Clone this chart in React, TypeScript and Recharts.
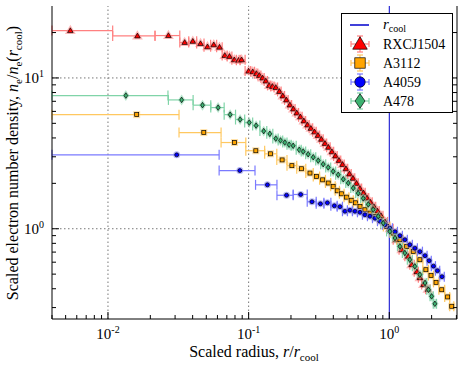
import { ScatterChart, Scatter, XAxis, YAxis, ErrorBar, ReferenceLine, Legend } from 'recharts';

// radii (r / r_cool) and scaled densities
const rxcjR = [0.0054, 0.0162, 0.0269, 0.0351, 0.0401, 0.0455, 0.051, 0.0565, 0.0621, 0.0677, 0.0731, 0.0791, 0.0848, 0.0891, 0.1, 0.107, 0.1135, 0.119, 0.1256, 0.1325, 0.14, 0.1475, 0.156, 0.1655, 0.175, 0.1855, 0.1965, 0.208, 0.22, 0.2334, 0.247, 0.262, 0.277, 0.294, 0.311, 0.329, 0.349, 0.369, 0.391, 0.414, 0.439, 0.465, 0.492, 0.521, 0.552, 0.585, 0.618, 0.655, 0.694, 0.735, 0.778, 0.824, 0.873, 0.932, 1.01, 1.125, 1.225, 1.36, 1.44, 1.57, 1.65, 1.75, 1.88];
const rxcjN = [20.6, 19.0, 19.1, 17.2, 17.5, 16.9, 16.1, 16.6, 16.0, 14.1, 13.9, 13.2, 13.1, 13.2, 11.1, 11.0, 10.7, 10.4, 10.0, 9.55, 8.92, 8.79, 8.65, 8.14, 7.6, 7.15, 6.62, 6.23, 5.86, 5.52, 5.19, 4.88, 4.63, 4.39, 4.16, 3.92, 3.68, 3.47, 3.24, 3.04, 2.84, 2.67, 2.5, 2.31, 2.16, 2.0, 1.85, 1.73, 1.6, 1.5, 1.4, 1.31, 1.22, 1.11, 1.0, 0.846, 0.726, 0.658, 0.578, 0.519, 0.474, 0.426, 0.397];
const rxcjLo = [0.004, 0.0108, 0.0216];
const rxcjHi = [0.0108, 0.0216, 0.0324];

const a3112R = [0.016, 0.048, 0.0794, 0.1125, 0.143, 0.173, 0.203, 0.238, 0.273, 0.304, 0.336, 0.368, 0.399, 0.4265, 0.458, 0.497, 0.536, 0.574, 0.619, 0.671, 0.729, 0.791, 0.859, 0.958, 1.068, 1.19, 1.33, 1.48, 1.65, 1.82, 1.98, 2.15, 2.36, 2.6, 2.78];
const a3112N = [5.71, 4.34, 3.73, 3.29, 3.14, 2.86, 2.62, 2.5, 2.34, 2.22, 2.11, 2.01, 1.91, 1.785, 1.705, 1.62, 1.545, 1.486, 1.405, 1.336, 1.27, 1.206, 1.147, 1.036, 0.936, 0.846, 0.764, 0.707, 0.623, 0.535, 0.489, 0.441, 0.394, 0.353, 0.306];
const a3112Lo = [0.004, 0.032, 0.0637, 0.0955, 0.13];
const a3112Hi = [0.032, 0.0637, 0.0955, 0.13, 0.1586];

const a4059R = [0.0308, 0.0866, 0.136, 0.186, 0.2344, 0.282, 0.324, 0.363, 0.407, 0.446, 0.484, 0.525, 0.57, 0.619, 0.671, 0.729, 0.791, 0.859, 0.932, 1.01, 1.098, 1.19, 1.29, 1.4, 1.52, 1.65, 1.795, 1.92, 2.06, 2.2, 2.37];
const a4059N = [3.09, 2.43, 1.955, 1.667, 1.687, 1.51, 1.464, 1.486, 1.42, 1.4, 1.306, 1.326, 1.306, 1.285, 1.238, 1.21, 1.174, 1.121, 1.063, 1.008, 0.955, 0.899, 0.846, 0.783, 0.743, 0.705, 0.663, 0.614, 0.565, 0.527, 0.481];
const a4059Lo = [0.004, 0.0617, 0.112, 0.159, 0.2074];
const a4059Hi = [0.0617, 0.111, 0.159, 0.2074, 0.261];

const a478R = [0.0134, 0.0334, 0.047, 0.0607, 0.0739, 0.087, 0.101, 0.113, 0.128, 0.1415, 0.156, 0.1686, 0.181, 0.194, 0.2073, 0.229, 0.2443, 0.265, 0.288, 0.3125, 0.339, 0.368, 0.399, 0.4335, 0.471, 0.511, 0.5545, 0.601, 0.653, 0.709, 0.769, 0.835, 0.906, 1.01, 1.098, 1.19, 1.29, 1.4, 1.52, 1.65, 1.795, 1.9, 2.0, 2.11];
const a478N = [7.64, 7.15, 6.6, 6.36, 5.71, 5.3, 5.06, 4.83, 4.44, 4.26, 3.96, 3.85, 3.73, 3.61, 3.55, 3.34, 3.25, 3.12, 2.98, 2.83, 2.68, 2.55, 2.4, 2.28, 2.13, 2.01, 1.86, 1.72, 1.59, 1.45, 1.34, 1.21, 1.09, 0.96, 0.868, 0.764, 0.69, 0.623, 0.563, 0.496, 0.437, 0.394, 0.356, 0.318];
const a478Lo = [0.004, 0.0269, 0.0403, 0.0538, 0.067];
const a478Hi = [0.0267, 0.0403, 0.0538, 0.067, 0.0807];

const xTicks = [0.004, 0.005, 0.006, 0.007, 0.008, 0.009, 0.01, 0.02, 0.03, 0.04, 0.05, 0.06, 0.07, 0.08, 0.09, 0.1, 0.2, 0.3, 0.4, 0.5, 0.6, 0.7, 0.8, 0.9, 1, 2, 3];
const yTicks = [0.3, 0.4, 0.5, 0.6, 0.7, 0.8, 0.9, 1, 2, 3, 4, 5, 6, 7, 8, 9, 10, 20];
const majors = [0.01, 0.1, 1, 10];

const FONT = "'Liberation Serif', 'DejaVu Serif', serif";
const serif = { fontFamily: FONT };

// bins: explicit edges for the wide inner bins, then edges half way (in log) to the neighbours
function rows(r: number[], n: number[], lo: number[], hi: number[]) {
  return r.map((v, i) => {
    let a = lo[i];
    let b = hi[i];
    if (a === undefined) a = i === lo.length ? hi[i - 1] : Math.sqrt(r[i - 1] * v);
    if (b === undefined) b = i < r.length - 1 ? Math.sqrt(v * r[i + 1]) : (v * v) / a;
    return { r: v, n: n[i], ex: [v - a, b - v] };
  });
}

const series = [
  { name: 'RXCJ1504', data: rows(rxcjR, rxcjN, rxcjLo, rxcjHi), fill: '#ff0000', err: '#ff8080', kind: 'tri' },
  { name: 'A3112', data: rows(a3112R, a3112N, a3112Lo, a3112Hi), fill: '#ffa500', err: '#ffc860', kind: 'sq' },
  { name: 'A4059', data: rows(a4059R, a4059N, a4059Lo, a4059Hi), fill: '#0000ff', err: '#7a7aff', kind: 'circ' },
  { name: 'A478', data: rows(a478R, a478N, a478Lo, a478Hi), fill: '#3cb371', err: '#80d4a8', kind: 'dia' },
];

function Marker({ kind, cx, cy, fill, s = 1, halo }: any) {
  const body = (extra: any) => {
    if (kind === 'tri')
      return <polygon points={`${cx},${cy - 2.8 * s} ${cx - 2.8 * s},${cy + 2 * s} ${cx + 2.8 * s},${cy + 2 * s}`} {...extra} />;
    if (kind === 'sq') return <rect x={cx - 2 * s} y={cy - 2 * s} width={4 * s} height={4 * s} {...extra} />;
    if (kind === 'circ') return <circle cx={cx} cy={cy} r={2 * s} {...extra} />;
    return <polygon points={`${cx},${cy - 2.8 * s} ${cx + 1.9 * s},${cy} ${cx},${cy + 2.8 * s} ${cx - 1.9 * s},${cy}`} {...extra} />;
  };
  return (
    <g>
      {halo && body({ fill: 'none', stroke: halo, strokeWidth: 3, strokeOpacity: 0.55 })}
      {body({ fill, stroke: '#000', strokeWidth: 0.7 })}
    </g>
  );
}

const exp = (v: number) => Math.round(Math.log10(v));

function BottomTick({ x, y, payload }: any) {
  const major = majors.includes(payload.value);
  return (
    <g>
      <line x1={x} x2={x} y1={y} y2={y - (major ? 7 : 4)} stroke="#000" />
      {major && (
        <text x={x} y={y + 20} textAnchor="middle" fontFamily={FONT} style={serif} fontSize={15} fill="#000">
          10<tspan dy={-6} fontSize={10}>{exp(payload.value)}</tspan>
        </text>
      )}
    </g>
  );
}

function TopTick({ x, y, payload }: any) {
  const major = majors.includes(payload.value);
  return <line x1={x} x2={x} y1={y} y2={y + (major ? 7 : 4)} stroke="#000" />;
}

function LeftTick({ x, y, payload }: any) {
  const major = majors.includes(payload.value);
  return (
    <g>
      <line x1={x} x2={x + (major ? 7 : 4)} y1={y} y2={y} stroke="#000" />
      {major && (
        <text x={x - 8} y={y + 5} textAnchor="end" fontFamily={FONT} style={serif} fontSize={15} fill="#000">
          10<tspan dy={-6} fontSize={10}>{exp(payload.value)}</tspan>
        </text>
      )}
    </g>
  );
}

function RightTick({ x, y, payload }: any) {
  const major = majors.includes(payload.value);
  return <line x1={x} x2={x - (major ? 7 : 4)} y1={y} y2={y} stroke="#000" />;
}

const XLabel = () => (
  <text x={254} y={357} textAnchor="middle" style={serif} fontSize={16} fill="#000">
    Scaled radius, <tspan fontStyle="italic">r</tspan>/<tspan fontStyle="italic">r</tspan>
    <tspan dy={4} fontSize={11}>cool</tspan>
  </text>
);

const YLabel = () => (
  <text x={18} y={163} transform="rotate(-90 18 163)" textAnchor="middle" style={serif} fontSize={16} fill="#000">
    Scaled electron number density, <tspan fontStyle="italic">n</tspan>
    <tspan dy={4} fontSize={11}>e</tspan>
    <tspan dy={-4}>/</tspan>
    <tspan fontStyle="italic">n</tspan>
    <tspan dy={4} fontSize={11}>e</tspan>
    <tspan dy={-4}>(</tspan>
    <tspan fontStyle="italic">r</tspan>
    <tspan dy={4} fontSize={11}>cool</tspan>
    <tspan dy={-4}>)</tspan>
  </text>
);

function LegendBox() {
  const rowY = [11, 30, 49, 68, 87];
  return (
    <div style={{ width: 112, height: 100, border: '1px solid #000', background: '#fff', boxSizing: 'border-box', fontFamily: FONT }}>
      <svg width={110} height={98} style={{ display: 'block' }}>
        <line x1={8} x2={27} y1={rowY[0]} y2={rowY[0]} stroke="#0000cc" strokeWidth={1.5} />
        <text x={41} y={rowY[0] + 4} fontFamily={FONT} style={serif} fontSize={15}>
          <tspan fontStyle="italic">r</tspan>
          <tspan dy={3} fontSize={10}>cool</tspan>
        </text>
        {series.map((s, i) => {
          const cy = rowY[i + 1];
          return (
            <g key={s.name}>
              <line x1={9} x2={27} y1={cy} y2={cy} stroke={s.err} strokeWidth={1.2} />
              <line x1={9} x2={9} y1={cy - 3} y2={cy + 3} stroke={s.err} strokeWidth={1.2} />
              <line x1={27} x2={27} y1={cy - 3} y2={cy + 3} stroke={s.err} strokeWidth={1.2} />
              <line x1={18} x2={18} y1={cy - 8} y2={cy + 8} stroke={s.err} strokeWidth={1.2} />
              <line x1={15} x2={21} y1={cy - 8} y2={cy - 8} stroke={s.err} strokeWidth={1.2} />
              <line x1={15} x2={21} y1={cy + 8} y2={cy + 8} stroke={s.err} strokeWidth={1.2} />
              <Marker kind={s.kind} cx={18} cy={cy} fill={s.fill} s={2.6} />
              <text x={41} y={cy + 5} fontFamily={FONT} style={serif} fontSize={14}>{s.name}</text>
            </g>
          );
        })}
      </svg>
    </div>
  );
}

export default function App() {
  return (
    <div style={{ position: 'absolute', left: 0, top: 0, width: 463, height: 367, background: '#fff', fontFamily: FONT }}>
      <ScatterChart width={463} height={367} margin={{ top: 6, right: 0, bottom: 0, left: 0 }} style={serif}>
        <XAxis
          xAxisId={0}
          dataKey="r"
          type="number"
          scale="log"
          domain={[0.004, 3.03]}
          allowDataOverflow
          ticks={xTicks}
          interval={0}
          height={48}
          tickSize={0}
          tickMargin={0}
          tick={<BottomTick />}
          axisLine={{ stroke: '#000' }}
          label={{ content: XLabel }}
        />
        <XAxis
          xAxisId="top"
          orientation="top"
          type="number"
          scale="log"
          domain={[0.004, 3.03]}
          allowDataOverflow
          ticks={xTicks}
          interval={0}
          height={0}
          tickSize={0}
          tickMargin={0}
          tick={<TopTick />}
          axisLine={{ stroke: '#000' }}
        />
        <YAxis
          yAxisId={0}
          dataKey="n"
          type="number"
          scale="log"
          domain={[0.252, 30]}
          allowDataOverflow
          ticks={yTicks}
          interval={0}
          width={52}
          tickSize={0}
          tickMargin={0}
          tick={<LeftTick />}
          axisLine={{ stroke: '#000' }}
          label={{ content: YLabel }}
        />
        <YAxis
          yAxisId="right"
          orientation="right"
          type="number"
          scale="log"
          domain={[0.252, 30]}
          allowDataOverflow
          ticks={yTicks}
          interval={0}
          width={6}
          tickSize={0}
          tickMargin={0}
          tick={<RightTick />}
          axisLine={{ stroke: '#000' }}
        />
        {[0.01, 0.1].map((v) => (
          <ReferenceLine key={'gx' + v} x={v} stroke="#777" strokeDasharray="1.5 2.5" />
        ))}
        {[1, 10].map((v) => (
          <ReferenceLine key={'gy' + v} y={v} stroke="#777" strokeDasharray="1.5 2.5" />
        ))}
        <ReferenceLine x={1} stroke="#0000cc" strokeWidth={1} />
        {series.map((s) => (
          <Scatter
            key={s.name}
            name={s.name}
            data={s.data}
            isAnimationActive={false}
            shape={(p: any) => <Marker kind={s.kind} cx={p.cx} cy={p.cy} fill={s.fill} halo={s.err} />}
          >
            <ErrorBar dataKey="ex" direction="x" width={5} stroke={s.err} strokeWidth={1.2} />
          </Scatter>
        ))}
        <Legend
          layout="horizontal"
          verticalAlign="middle"
          align="center"
          content={() => <LegendBox />}
          wrapperStyle={{ position: 'absolute', left: 341, top: 13, width: 112, height: 100 }}
        />
      </ScatterChart>
    </div>
  );
}
